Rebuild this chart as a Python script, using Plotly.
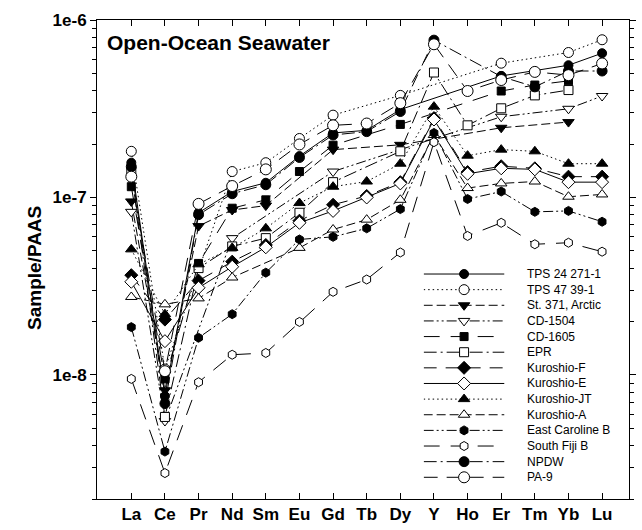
import plotly.graph_objects as go
import math

elements = ["La", "Ce", "Pr", "Nd", "Sm", "Eu", "Gd", "Tb", "Dy", "Y", "Ho", "Er", "Tm", "Yb", "Lu"]
N = None

tps24 = [1.57e-7, 7.6e-9, 8.2e-8, 1.08e-7, 1.21e-7, 1.71e-7, 2.31e-7, 2.39e-7, 3.13e-7, N, N, 4.84e-7, N, 5.56e-7, 6.5e-7]
tps47 = [1.82e-7, 1.08e-8, N, 1.40e-7, 1.57e-7, 2.15e-7, 2.91e-7, N, 3.76e-7, N, N, 5.71e-7, N, 6.56e-7, 7.74e-7]
st371 = [9.5e-8, 8.2e-9, 6.9e-8, 8.5e-8, 9.0e-8, N, 1.86e-7, N, 1.98e-7, N, N, 2.47e-7, N, 2.66e-7, N]
cd1504 = [8.3e-8, 5.5e-9, N, 5.9e-8, N, N, 1.40e-7, N, N, N, N, 2.85e-7, N, 3.16e-7, 3.73e-7]
cd1605 = [1.15e-7, 9.5e-9, 4.25e-8, 8.7e-8, 9.7e-8, 1.40e-7, 1.97e-7, N, 2.58e-7, N, N, 3.98e-7, 4.3e-7, 4.54e-7, N]
epr = [1.40e-7, 5.8e-9, 4.0e-8, 5.3e-8, 5.9e-8, 8.2e-8, 1.22e-7, N, 1.82e-7, 5.06e-7, 2.55e-7, 3.18e-7, 3.76e-7, 4.03e-7, N]
kuro_f = [3.65e-8, 2.05e-8, 3.4e-8, 4.35e-8, 5.4e-8, 7.4e-8, 9.1e-8, 1.02e-7, 1.22e-7, 2.8e-7, 1.39e-7, 1.5e-7, 1.46e-7, 1.31e-7, 1.31e-7]
kuro_e = [3.35e-8, 1.55e-8, 3.1e-8, 4.07e-8, 5.24e-8, 7.2e-8, 8.4e-8, 1.0e-7, 1.2e-7, 2.75e-7, 1.36e-7, 1.46e-7, 1.44e-7, 1.22e-7, 1.22e-7]
kuro_jt = [5.1e-8, 2.2e-8, 4.2e-8, 5.2e-8, 6.7e-8, 9.3e-8, 1.15e-7, 1.23e-7, 1.55e-7, 3.25e-7, 1.72e-7, 1.86e-7, 1.82e-7, 1.55e-7, 1.55e-7]
kuro_a = [2.75e-8, 2.5e-8, 2.7e-8, 3.54e-8, N, 5.2e-8, 6.6e-8, 7.5e-8, 9.7e-8, 2.25e-7, 1.13e-7, 1.2e-7, 1.23e-7, 1.01e-7, 1.04e-7]
east_car = [1.86e-8, 3.7e-9, 1.62e-8, 2.2e-8, 3.77e-8, 5.8e-8, 6.0e-8, 6.7e-8, 8.6e-8, 2.31e-7, 9.8e-8, 1.08e-7, 8.3e-8, 8.4e-8, 7.3e-8]
south_fiji = [9.5e-9, 2.8e-9, 9.1e-9, 1.3e-8, 1.33e-8, 1.99e-8, 2.94e-8, 3.45e-8, 4.9e-8, 2.05e-7, 6.07e-8, 7.2e-8, 5.45e-8, 5.56e-8, 4.95e-8]
npdw = [1.49e-7, 6.9e-9, 8.0e-8, 1.05e-7, 1.18e-7, 1.68e-7, 2.25e-7, 2.35e-7, 3.05e-7, 7.7e-7, N, 4.8e-7, 4.2e-7, 5.16e-7, 5.16e-7]
pa9 = [1.31e-7, 1.05e-8, 9.2e-8, 1.16e-7, 1.44e-7, 1.99e-7, 2.55e-7, 2.61e-7, 3.4e-7, 7.3e-7, 3.98e-7, 4.59e-7, 5.1e-7, 4.89e-7, 5.69e-7]

names = ["TPS 24 271-1", "TPS 47 39-1", "St. 371, Arctic", "CD-1504", "CD-1605", "EPR",
         "Kuroshio-F", "Kuroshio-E", "Kuroshio-JT", "Kuroshio-A", "East Caroline B",
         "South Fiji B", "NPDW", "PA-9"]
series = [tps24, tps47, st371, cd1504, cd1605, epr, kuro_f, kuro_e, kuro_jt, kuro_a,
          east_car, south_fiji, npdw, pa9]

DOT = "1.5px,3px"
DASH = "9px,4px"
DADODO = "10px,3px,2px,3px,2px,3px"
LDASH = "16px,11px"
DADOT = "13px,4px,2px,4px"
styles = [
    ("solid", "circle", True, 9),
    (DOT, "circle", False, 10),
    (DASH, "triangle-down", True, 10),
    (DADODO, "triangle-down", False, 10),
    (LDASH, "square", True, 8),
    (DADOT, "square", False, 9),
    ("13px,9px", "diamond", True, 10),
    ("solid", "diamond", False, 10),
    (DOT, "triangle-up", True, 10),
    (DASH, "triangle-up", False, 10),
    (DADODO, "hexagon", True, 9),
    (LDASH, "hexagon", False, 9),
    (DADOT, "circle", True, 10),
    ("14px,9px", "circle", False, 11),
]

FONT = "Liberation Sans, Arial"
fig = go.Figure()

for i, (nm, ys) in enumerate(zip(names, series)):
    dash, sym, filled, sz = styles[i]
    fig.add_trace(go.Scatter(
        x=elements, y=ys, mode="lines+markers", name=nm, connectgaps=True,
        line=dict(color="black", width=1, dash=dash),
        marker=dict(symbol=sym, size=sz, color="black" if filled else "white",
                    line=dict(color="black", width=1)),
        showlegend=False, cliponaxis=False,
    ))

# legend drawn on a helper axis
for i, nm in enumerate(names):
    dash, sym, filled, sz = styles[i]
    fig.add_trace(go.Scatter(
        x=[0, 2], y=[i, i], mode="lines", xaxis="x2", yaxis="y2",
        line=dict(color="black", width=1, dash=dash), showlegend=False, hoverinfo="skip"))
    fig.add_trace(go.Scatter(
        x=[1], y=[i], mode="markers", xaxis="x2", yaxis="y2", cliponaxis=False,
        marker=dict(symbol=sym, size=sz, color="black" if filled else "white",
                    line=dict(color="black", width=1)), showlegend=False, hoverinfo="skip"))
    fig.add_annotation(x=0.805, xref="paper", y=i, yref="y2", text=nm, showarrow=False,
                       xanchor="left", yanchor="middle",
                       font=dict(family=FONT, size=12, color="black"))

minor_vals = []
for dec in (-9, -8, -7):
    for m in range(2, 10):
        v = m * 10.0 ** dec
        if v >= 2e-9:
            minor_vals.append(v)

fig.update_layout(
    width=642, height=530,
    margin=dict(l=97, r=6, t=20, b=31),
    paper_bgcolor="white", plot_bgcolor="white",
    font=dict(family=FONT, color="black"),
    xaxis=dict(
        type="category", categoryorder="array", categoryarray=elements,
        range=[-1.02, 14.8], showline=True, linecolor="black", linewidth=1, mirror="ticks",
        ticks="inside", ticklen=6, tickcolor="black", showgrid=False, zeroline=False,
        tickfont=dict(family=FONT, size=17, color="black", weight="bold"),
    ),
    yaxis=dict(
        type="log", range=[math.log10(2e-9), -6], showline=True, linecolor="black",
        linewidth=1, mirror="ticks", ticks="outside", ticklen=6, tickcolor="black",
        tickvals=[1e-8, 1e-7, 1e-6], ticktext=["1e-8", "1e-7", "1e-6"],
        showgrid=False, zeroline=False,
        tickfont=dict(family=FONT, size=17, color="black", weight="bold"),
        minor=dict(tickvals=minor_vals, ticks="outside", ticklen=4, tickcolor="black", showgrid=False),
    ),
    xaxis2=dict(domain=[0.614, 0.766], range=[0, 2], visible=False, anchor="y2", fixedrange=True),
    yaxis2=dict(domain=[0.0290, 0.4860], range=[13.5, -0.5], visible=False, anchor="x2", fixedrange=True),
    showlegend=False,
)

fig.add_annotation(x=0.0148, xref="paper", y=0.954, yref="paper", text="<b>Open-Ocean Seawater</b>",
                   showarrow=False, xanchor="left", yanchor="middle",
                   font=dict(family=FONT, size=21, color="black"))
fig.add_annotation(x=-0.1187, xref="paper", y=0.482, yref="paper", text="<b>Sample/PAAS</b>",
                   showarrow=False, textangle=-90, xanchor="center", yanchor="middle",
                   font=dict(family=FONT, size=19, color="black"))

fig.write_html("out.html", config={"displayModeBar": False},
               post_script="document.body.style.margin='0';")
